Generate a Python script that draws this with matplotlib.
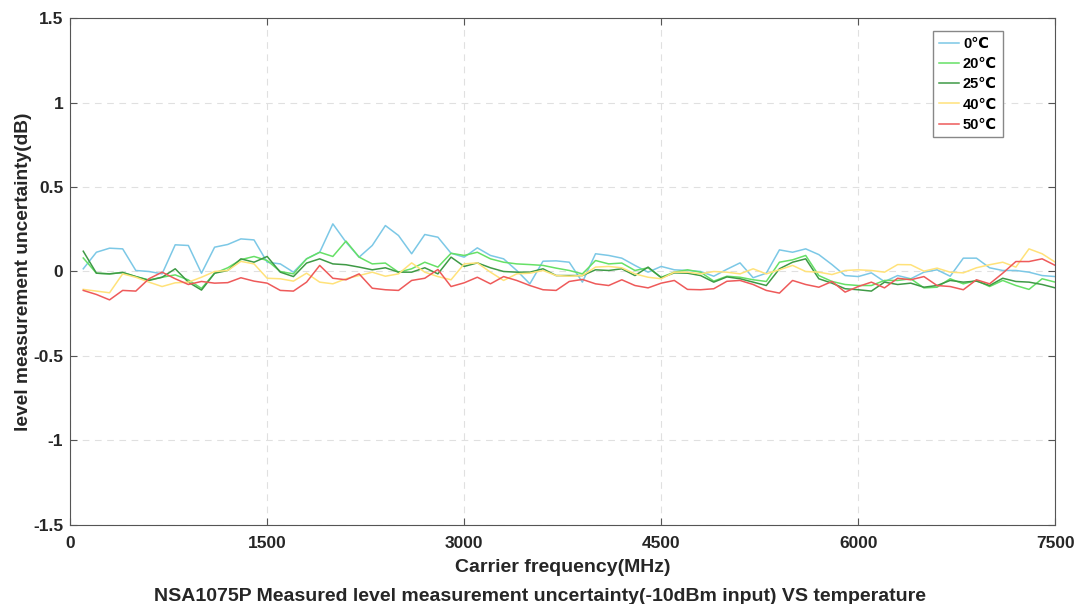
import numpy as np
import matplotlib
matplotlib.use("Agg")
import matplotlib.pyplot as plt

plt.rcParams['font.family'] = ['Liberation Sans', 'DejaVu Sans']

freq = list(range(100, 7600, 100))

t0 = [0.016, 0.114, 0.138, 0.134, 0.006, 0.0, -0.014, 0.158, 0.154, -0.01,
      0.144, 0.16, 0.193, 0.187, 0.055, 0.045, -0.004, 0.075, 0.114, 0.282,
      0.174, 0.085, 0.154, 0.272, 0.213, 0.105, 0.219, 0.203, 0.108, 0.085,
      0.14, 0.095, 0.075, 0.006, -0.073, 0.061, 0.063, 0.055, -0.063, 0.105,
      0.095, 0.079, 0.036, -0.004, 0.03, 0.01, 0.006, 0.0, -0.028, 0.013,
      0.051, -0.037, -0.01, 0.128, 0.114, 0.134, 0.1, 0.041, -0.024, -0.03,
      -0.008, -0.06, -0.024, -0.043, -0.004, 0.01, -0.028, 0.079, 0.079, 0.022,
      0.006, 0.006, -0.004, -0.024, -0.03]

t20 = [0.08, -0.01, -0.014, -0.006, -0.03, -0.05, -0.034, -0.02, -0.05, -0.10,
       -0.01, 0.022, 0.07, 0.089, 0.065, 0.0, -0.014, 0.075, 0.114, 0.089,
       0.18, 0.085, 0.045, 0.05, -0.004, 0.016, 0.055, 0.026, 0.108, 0.095,
       0.114, 0.075, 0.055, 0.045, 0.041, 0.036, 0.02, 0.006, -0.014, 0.065,
       0.045, 0.05, 0.006, 0.022, -0.034, -0.004, 0.01, -0.004, -0.057, -0.028,
       -0.034, -0.049, -0.059, 0.055, 0.069, 0.095, -0.024, -0.059, -0.077, -0.083,
       -0.083, -0.053, -0.053, -0.043, -0.097, -0.093, -0.043, -0.073, -0.053, -0.089,
       -0.053, -0.083, -0.106, -0.043, -0.063]

t25 = [0.12, -0.01, -0.014, -0.006, -0.03, -0.053, -0.034, 0.016, -0.063, -0.11,
       -0.01, 0.006, 0.075, 0.055, 0.089, -0.004, -0.03, 0.05, 0.075, 0.045,
       0.04, 0.026, 0.01, 0.022, -0.004, -0.004, 0.022, -0.014, 0.085, 0.03,
       0.051, 0.022, 0.0, -0.004, -0.004, 0.016, -0.024, -0.024, -0.024, 0.01,
       0.006, 0.016, -0.024, 0.026, -0.037, -0.008, -0.01, -0.024, -0.063, -0.032,
       -0.043, -0.063, -0.083, 0.016, 0.055, 0.075, -0.043, -0.069, -0.102, -0.108,
       -0.116, -0.063, -0.077, -0.069, -0.093, -0.083, -0.053, -0.063, -0.057, -0.083,
       -0.04, -0.059, -0.063, -0.077, -0.097]

t40 = [-0.106, -0.116, -0.126, -0.014, -0.034, -0.063, -0.089, -0.067, -0.063, -0.034,
       0.0, 0.006, 0.06, 0.045, -0.04, -0.043, -0.057, -0.01, -0.063, -0.073,
       -0.043, -0.024, -0.004, -0.028, -0.014, 0.051, -0.004, -0.03, -0.049, 0.045,
       0.051, -0.004, -0.053, -0.014, -0.01, 0.006, -0.024, -0.028, -0.024, 0.026,
       0.03, 0.022, -0.014, -0.034, -0.043, -0.004, -0.004, -0.014, 0.0, -0.004,
       -0.014, 0.016, -0.014, 0.01, 0.036, 0.0, -0.004, -0.018, 0.006, 0.01,
       0.006, -0.004, 0.041, 0.04, 0.002, 0.02, -0.004, -0.008, 0.022, 0.04,
       0.055, 0.026, 0.134, 0.105, 0.055]

t50 = [-0.112, -0.136, -0.168, -0.112, -0.116, -0.043, -0.004, -0.043, -0.077, -0.059,
       -0.069, -0.066, -0.037, -0.057, -0.069, -0.112, -0.116, -0.063, 0.036, -0.04,
       -0.049, -0.014, -0.099, -0.108, -0.112, -0.053, -0.04, 0.012, -0.089, -0.067,
       -0.034, -0.073, -0.03, -0.053, -0.083, -0.108, -0.112, -0.059, -0.047, -0.073,
       -0.083, -0.049, -0.083, -0.097, -0.069, -0.053, -0.106, -0.108, -0.102, -0.058,
       -0.053, -0.077, -0.112, -0.128, -0.053, -0.077, -0.093, -0.059, -0.122, -0.089,
       -0.063, -0.097, -0.04, -0.049, -0.03, -0.083, -0.089, -0.108, -0.049, -0.073,
       -0.01, 0.059, 0.059, 0.075, 0.036]

labels = ['0℃', '20℃', '25℃', '40℃', '50℃']
colors = ['#7cc8e6', '#66e066', '#3f9a46', '#ffe27a', '#ee5a5a']
series = [t0, t20, t25, t40, t50]

fig = plt.figure(figsize=(10.79, 6.04), dpi=100)
ax = fig.add_axes([0.065, 0.131, 0.913, 0.839])

for vals, lab, col in zip(series, labels, colors):
    ax.plot(freq, vals, color=col, linewidth=1.1, label=lab)

ax.set_xlim(0, 7500)
ax.set_ylim(-1.5, 1.5)
ax.set_xticks([0, 1500, 3000, 4500, 6000, 7500])
ax.set_yticks([-1.5, -1, -0.5, 0, 0.5, 1, 1.5])
ax.set_yticklabels(['-1.5', '-1', '-0.5', '0', '0.5', '1', '1.5'])
ax.grid(True, linestyle=(0, (6, 5)), color='#e0e0e0', linewidth=0.8)
ax.tick_params(direction='in', top=True, right=True, length=5, width=0.8,
               color='#555555', labelsize=12.5)
ax.tick_params(axis='y', pad=5)
ax.tick_params(axis='x', pad=8)
for lbl in ax.get_xticklabels() + ax.get_yticklabels():
    lbl.set_fontweight('bold')
    lbl.set_color('#262626')
for sp in ax.spines.values():
    sp.set_color('#555555')
    sp.set_linewidth(0.8)

ax.set_xlabel('Carrier frequency(MHz)', fontsize=14, fontweight='bold',
              color='#262626', labelpad=6)
ax.set_ylabel('level measurement uncertainty(dB)', fontsize=13.8, fontweight='bold',
              color='#262626', labelpad=1)
fig.text(0.5, 0.013, 'NSA1075P Measured level measurement uncertainty(-10dBm input) VS temperature',
         ha='center', va='center', fontsize=14, fontweight='bold', color='#262626')

leg = ax.legend(loc='upper right', bbox_to_anchor=(0.947, 0.974), borderaxespad=0,
                fontsize=10.5, handlelength=1.4, handletextpad=0.25, borderpad=0.4,
                labelspacing=0.42, fancybox=False, edgecolor='#888888', framealpha=1)
for t in leg.get_texts():
    t.set_fontweight('bold')

fig.savefig('out.png', dpi=100)
